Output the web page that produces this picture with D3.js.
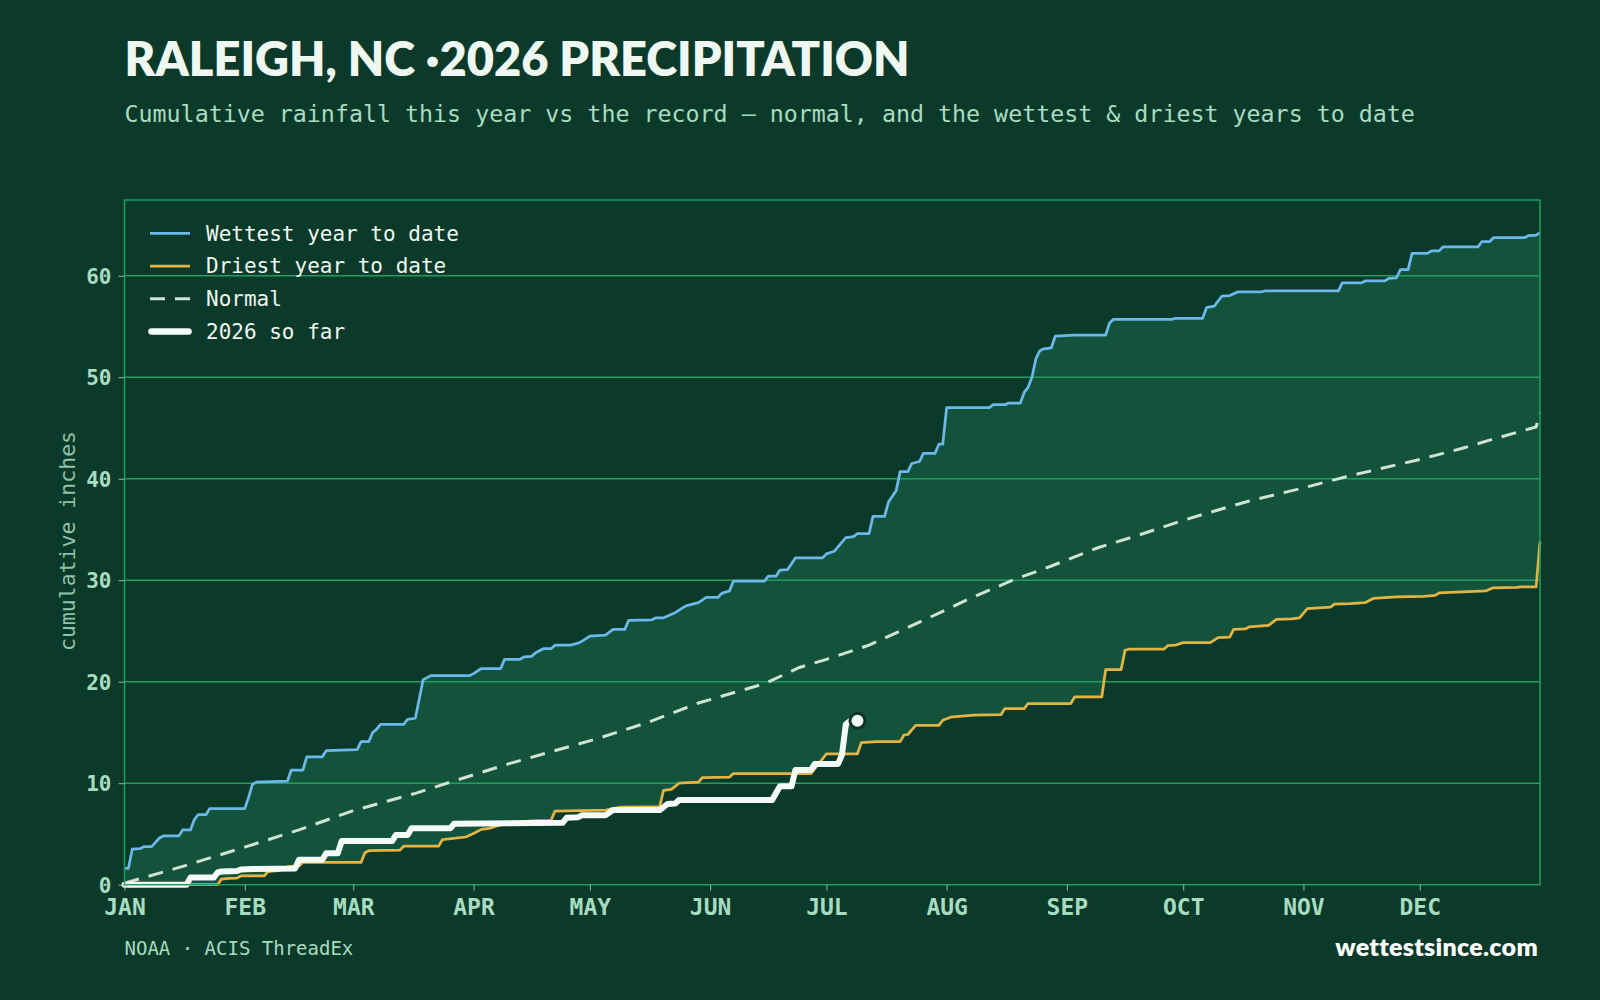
<!DOCTYPE html>
<html><head><meta charset="utf-8">
<script src="https://cdn.jsdelivr.net/npm/d3@7"></script>
<style>
html,body{margin:0;padding:0;background:#0b3a2a;}
svg{display:block;}
</style></head><body>
<svg id="chart" width="1600" height="1000"></svg>
<script>
// ---------------- data (day-of-year index, cumulative inches) ----------------
const monthLabels = ["JAN","FEB","MAR","APR","MAY","JUN","JUL","AUG","SEP","OCT","NOV","DEC"];
const yTicks = [0,10,20,30,40,50,60];
const legendLabels = ["Wettest year to date","Driest year to date","Normal","2026 so far"];

const wettest = [[0,1.6],[1,1.6],[2,3.5],[4,3.55],[5,3.75],[7,3.75],[9,4.6],[10,4.8],[14,4.8],[15,5.4],[17,5.4],[18,6.4],[19,6.9],[21,6.9],[22,7.5],[31,7.5],[32,8.6],[33,9.9],[34,10.1],[42,10.2],[43,11.3],[46,11.3],[47,12.6],[51,12.6],[52,13.2],[60,13.3],[61,14.1],[63,14.1],[64,15.0],[65,15.3],[66,15.8],[72,15.8],[73,16.3],[75,16.4],[77,20.2],[79,20.6],[89,20.6],[90,20.8],[92,21.3],[97,21.3],[98,22.2],[102,22.2],[103,22.45],[105,22.5],[106,22.85],[108,23.25],[110,23.25],[111,23.6],[115,23.6],[117,23.8],[118,24.0],[120,24.5],[124,24.6],[126,25.15],[129,25.15],[130,26.05],[136,26.1],[137,26.3],[139,26.3],[142,26.8],[144,27.3],[145,27.5],[148,27.8],[150,28.3],[153,28.3],[154,28.7],[156,28.95],[157,29.9],[165,29.9],[166,30.4],[168,30.4],[169,31.0],[171,31.05],[173,32.2],[180,32.2],[181,32.6],[183,32.85],[186,34.2],[188,34.3],[189,34.6],[192,34.6],[193,36.3],[196,36.3],[197,37.7],[199,38.85],[200,40.7],[202,40.7],[203,41.5],[205,41.7],[206,42.5],[209,42.5],[210,43.4],[211,43.4],[212,47.0],[223,47.0],[224,47.3],[227,47.3],[228,47.45],[231,47.45],[232,48.5],[233,49.0],[234,50.0],[235,51.8],[236,52.6],[237,52.8],[239,52.9],[240,54.05],[245,54.15],[253,54.15],[254,55.35],[255,55.7],[270,55.7],[271,55.8],[278,55.8],[279,56.85],[281,57.0],[283,58.0],[285,58.05],[287,58.4],[293,58.4],[294,58.5],[313,58.5],[314,59.3],[319,59.3],[320,59.5],[325,59.5],[326,59.75],[328,59.8],[329,60.6],[331,60.6],[332,62.2],[336,62.2],[337,62.45],[339,62.45],[340,62.85],[349,62.85],[350,63.35],[352,63.35],[353,63.75],[361,63.75],[362,63.95],[364,64.0],[365,64.25]];

const driest = [[0,0],[24,0],[25,0.55],[27,0.63],[29,0.65],[30,0.86],[36,0.86],[37,1.28],[40,1.4],[42,1.77],[45,1.85],[46,2.2],[61,2.2],[62,3.15],[63,3.35],[71,3.4],[72,3.8],[81,3.8],[82,4.45],[88,4.7],[90,5.05],[92,5.45],[94,5.55],[96,5.8],[98,6.0],[105,6.3],[110,6.35],[111,7.25],[124,7.35],[126,7.5],[128,7.65],[138,7.7],[139,9.3],[141,9.4],[143,10.0],[148,10.1],[149,10.55],[156,10.6],[157,10.95],[177,10.95],[179,11.9],[181,12.9],[189,12.9],[190,14.0],[194,14.1],[200,14.1],[201,14.75],[202,14.8],[204,15.7],[210,15.7],[211,16.2],[213,16.5],[219,16.7],[226,16.75],[227,17.35],[232,17.35],[233,17.85],[244,17.85],[245,18.5],[252,18.5],[253,21.2],[257,21.2],[258,23.1],[259,23.2],[268,23.2],[269,23.55],[271,23.6],[273,23.85],[280,23.85],[282,24.35],[285,24.4],[286,25.15],[289,25.2],[290,25.4],[295,25.55],[297,26.15],[301,26.2],[303,26.3],[305,27.2],[311,27.35],[312,27.65],[316,27.7],[320,27.8],[322,28.2],[328,28.35],[335,28.4],[338,28.5],[339,28.75],[345,28.85],[351,28.95],[353,29.25],[359,29.3],[360,29.35],[364,29.35],[365,33.8]];

const normal = [[0,0.15],[15,1.8],[31,3.7],[45,5.4],[59,7.3],[75,9.0],[84,10.1],[99,11.9],[110,13.1],[122,14.4],[135,16.0],[148,17.9],[165,19.8],[174,21.4],[181,22.2],[192,23.6],[200,25.0],[208,26.4],[218,28.2],[229,30.0],[239,31.4],[251,33.2],[262,34.5],[273,35.9],[280,36.7],[290,37.8],[304,39.1],[315,40.2],[334,41.9],[345,43.0],[352,43.8],[364,45.1],[365,46.5]];

const thisYear = [[0,0],[16,0],[17,0.7],[23,0.7],[24,1.2],[25,1.3],[29,1.35],[30,1.5],[33,1.55],[44,1.6],[45,2.45],[51,2.45],[52,3.1],[55,3.1],[56,4.3],[69,4.3],[70,4.9],[73,4.9],[74,5.55],[84,5.55],[85,6.0],[113,6.1],[114,6.6],[117,6.65],[118,6.85],[124,6.85],[126,7.35],[138,7.35],[140,7.95],[142,8.0],[143,8.35],[167,8.35],[169,9.7],[172,9.7],[173,11.3],[177,11.3],[178,11.9],[184,11.9],[185,12.8],[186,15.8],[187,16.1],[189,16.15]];

(function draw(){
// ---------------- styles ----------------
const C = {
  bg:"#0b3a2a", band:"#13523b", grid:"#1f9d63", mint:"#a8dcc0", text:"#eef7f0",
  wet:"#6cb8ea", dry:"#e3b443", normal:"#cfe3d6", year:"#f4fbf6", tick:"#9db5a8"
};
const MONO = "'DejaVu Sans Mono', monospace";
const SANS = "Lato, 'Open Sans', sans-serif";

const svg = d3.select("#chart");
const pL = 124.5, pR = 1540, pT = 200, pB = 884.7;
const day0 = Date.UTC(2026,0,1);
const toDate = d => new Date(day0 + d*864e5);

const x = d3.scaleUtc().domain([new Date(day0), new Date(Date.UTC(2027,0,1))]).range([pL,pR]);
const y = d3.scaleLinear().domain([0, d3.max(wettest, d=>d[1])*1.05]).range([pB, pT]);

svg.append("rect").attr("width",1600).attr("height",1000).attr("fill",C.bg);

const line = d3.line().x(d=>x(toDate(d[0]))).y(d=>y(d[1]));

// band between driest and wettest
const bandD = line(wettest) + line(driest.slice().reverse()).replace(/^M/,"L") + "Z";
svg.append("path").attr("d",bandD).attr("fill",C.band);

// grid
svg.append("g").selectAll("line").data(yTicks.filter(t=>t>0)).join("line")
  .attr("x1",pL).attr("x2",pR).attr("y1",d=>y(d)).attr("y2",d=>y(d))
  .attr("stroke",C.grid).attr("stroke-width",1.5);

// series
svg.append("path").attr("d",line(normal)).attr("fill","none").attr("stroke",C.normal)
  .attr("stroke-width",3).attr("stroke-dasharray","15,10");
svg.append("path").attr("d",line(driest)).attr("fill","none").attr("stroke",C.dry)
  .attr("stroke-width",2.75).attr("stroke-linejoin","round");
svg.append("path").attr("d",line(wettest)).attr("fill","none").attr("stroke",C.wet)
  .attr("stroke-width",2.75).attr("stroke-linejoin","round");
svg.append("path").attr("d",line(thisYear)).attr("fill","none").attr("stroke",C.year)
  .attr("stroke-width",6).attr("stroke-linejoin","round").attr("stroke-linecap","round");
const last = thisYear[thisYear.length-1];
svg.append("circle").attr("cx",x(toDate(last[0]))).attr("cy",y(last[1])).attr("r",7.5)
  .attr("fill",C.year).attr("stroke","#0a3326").attr("stroke-width",3);

// frame
svg.append("rect").attr("x",pL).attr("y",pT).attr("width",pR-pL).attr("height",pB-pT)
  .attr("fill","none").attr("stroke",C.grid).attr("stroke-width",1.5);

// x axis
const monthDates = monthLabels.map((m,i)=>new Date(Date.UTC(2026,i,1)));
const xAxis = svg.append("g").attr("transform",`translate(0,${pB})`)
  .call(d3.axisBottom(x).tickValues(monthDates).tickFormat((d,i)=>monthLabels[i]).tickSize(6).tickPadding(0));
xAxis.select(".domain").remove();
xAxis.selectAll(".tick line").attr("stroke",C.tick).attr("stroke-width",1);
xAxis.selectAll(".tick text").attr("y",30.5).attr("dy",0).attr("fill",C.mint)
  .style("font-family",MONO).style("font-weight","bold").style("font-size","23px");

// y axis
const yAxis = svg.append("g").attr("transform",`translate(${pL},0)`)
  .call(d3.axisLeft(y).tickValues(yTicks).tickFormat(d3.format("d")).tickSize(6));
yAxis.select(".domain").remove();
yAxis.selectAll(".tick line").attr("stroke",C.tick).attr("stroke-width",1);
yAxis.selectAll(".tick text").attr("x",-13).attr("dy","0.35em").attr("fill",C.mint)
  .style("font-family",MONO).style("font-weight","bold").style("font-size","21px");

svg.append("text").attr("transform","translate(75,541) rotate(-90)").attr("text-anchor","middle")
  .attr("fill",C.mint).attr("fill-opacity",0.85).style("font-family",MONO).style("font-size","21.5px")
  .text("cumulative inches");

// legend
const lg = svg.append("g");
const legStyles = [
  {stroke:C.wet, w:2.75, dash:null, cap:"butt", x1:150, x2:190},
  {stroke:C.dry, w:2.75, dash:null, cap:"butt", x1:150, x2:190},
  {stroke:C.normal, w:3, dash:"15,10", cap:"butt", x1:150, x2:190},
  {stroke:C.year, w:6.5, dash:null, cap:"round", x1:151.5, x2:188.5}
];
legendLabels.forEach((lab,i)=>{
  const yy = 233.3 + i*32.7;
  const s = legStyles[i];
  lg.append("line").attr("x1",s.x1).attr("x2",s.x2).attr("y1",yy).attr("y2",yy)
    .attr("stroke",s.stroke).attr("stroke-width",s.w).attr("stroke-linecap",s.cap)
    .attr("stroke-dasharray",s.dash);
  lg.append("text").attr("x",206).attr("y",yy).attr("dy","0.35em").attr("fill",C.text)
    .style("font-family",MONO).style("font-size","21px").text(lab);
});

// titles
svg.append("text").attr("x",124.5).attr("y",76).attr("fill",C.text)
  .style("font-family",SANS).style("font-weight","800").style("font-size","47px")
  .text("RALEIGH, NC ·2026 PRECIPITATION");
svg.append("text").attr("x",124.5).attr("y",121.7).attr("fill",C.mint)
  .style("font-family",MONO).style("font-size","23.3px")
  .text("Cumulative rainfall this year vs the record — normal, and the wettest & driest years to date");

// footer
svg.append("text").attr("x",124.5).attr("y",955).attr("fill",C.mint)
  .style("font-family",MONO).style("font-size","19px").text("NOAA · ACIS ThreadEx");
svg.append("text").attr("x",1538).attr("y",956).attr("text-anchor","end").attr("fill","#ffffff")
  .style("font-family",SANS).style("font-weight","800").style("font-size","25px")
  .style("letter-spacing","0.3px").text("wettestsince.com");
})();
</script>
</body></html>
